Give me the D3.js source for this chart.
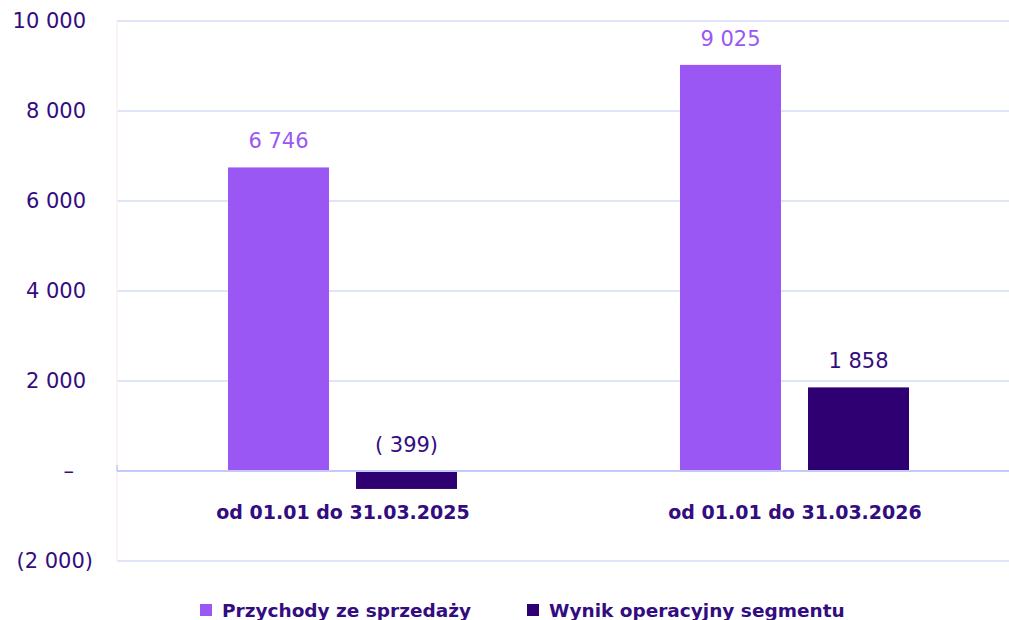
<!DOCTYPE html>
<html>
<head>
<meta charset="utf-8">
<script src="https://cdn.jsdelivr.net/npm/d3@7"></script>
<style>
  body { margin: 0; background: #fff; }
  svg text { font-family: "DejaVu Sans", sans-serif; }
</style>
</head>
<body>
<div id="chart"></div>
<script>
const categories = ["od 01.01 do 31.03.2025", "od 01.01 do 31.03.2026"];
const seriesNames = ["Przychody ze sprzedaży", "Wynik operacyjny segmentu"];
const revenue = [6746, 9025];
const operatingResult = [-399, 1858];
const valueLabels = [["6 746", "( 399)"], ["9 025", "1 858"]];
const yTicks = [-2000, 0, 2000, 4000, 6000, 8000, 10000];
const yTickLabels = ["(2 000)", "–", "2 000", "4 000", "6 000", "8 000", "10 000"];

const colors = ["#9a57f3", "#2e0072"];
const textColor = "#330d80";

const W = 1009, H = 620;
const svg = d3.select("#chart").append("svg").attr("width", W).attr("height", H);

const y = d3.scaleLinear().domain([-2000, 10000]).range([561, 21]);
const x0 = d3.scaleBand().domain(categories).range([117, 1021]);
const x1 = d3.scaleBand().domain(seriesNames).range([111, 340]).paddingInner(0.211);

// gridlines
svg.append("g").selectAll("line").data(yTicks.filter(d => d !== 0)).join("line")
  .attr("x1", 117).attr("x2", 1009)
  .attr("y1", d => y(d)).attr("y2", d => y(d))
  .attr("stroke", "#e0e4f9").attr("stroke-width", 2);

// left axis line
svg.append("line").attr("x1", 117).attr("x2", 117).attr("y1", 21).attr("y2", 561)
  .attr("stroke", "#fbeef2").attr("stroke-width", 1.5);

// y tick labels
svg.append("g").selectAll("text").data(yTicks).join("text")
  .attr("x", (d, i) => {
    const l = yTickLabels[i];
    if (l.endsWith(")")) return 93;
    if (l === "–") return 74;
    return 86;
  })
  .attr("y", d => y(d)).attr("dy", "0.35em")
  .attr("text-anchor", "end")
  .attr("fill", textColor).attr("font-size", 21)
  .text((d, i) => yTickLabels[i]);

const data = categories.map((c, i) => ({cat: c, vals: [revenue[i], operatingResult[i]]}));

const groups = svg.append("g").selectAll("g").data(data).join("g")
  .attr("transform", d => `translate(${x0(d.cat)},0)`);

groups.selectAll("rect").data(d => d.vals.map((v, j) => ({v, j}))).join("rect")
  .attr("x", d => x1(seriesNames[d.j]))
  .attr("width", x1.bandwidth())
  .attr("y", d => y(Math.max(0, d.v)))
  .attr("height", d => Math.abs(y(d.v) - y(0)))
  .attr("fill", d => colors[d.j]);

groups.selectAll("text.val").data((d, i) => d.vals.map((v, j) => ({v, j, label: valueLabels[i][j]}))).join("text")
  .attr("class", "val")
  .attr("x", d => x1(seriesNames[d.j]) + x1.bandwidth() / 2)
  .attr("y", d => y(Math.max(0, d.v)) - 19)
  .attr("text-anchor", "middle")
  .attr("fill", d => d.j === 0 ? colors[0] : textColor)
  .attr("font-size", 21)
  .text(d => d.label);

// zero line
svg.append("line").attr("x1", 117).attr("x2", 1009).attr("y1", y(0)).attr("y2", y(0))
  .attr("stroke", "#c3c9fb").attr("stroke-width", 2);
svg.append("line").attr("x1", 117).attr("x2", 117).attr("y1", y(0) - 6).attr("y2", y(0))
  .attr("stroke", "#c3c9fb").attr("stroke-width", 1.5);

// category labels
svg.append("g").selectAll("text").data(categories).join("text")
  .attr("x", d => x0(d) + x0.bandwidth() / 2)
  .attr("y", 519)
  .attr("text-anchor", "middle")
  .attr("fill", textColor).attr("font-size", 19).attr("font-weight", "bold")
  .text(d => d);

// legend
const legendX = [200, 527];
const legend = svg.append("g").selectAll("g").data(seriesNames).join("g")
  .attr("transform", (d, i) => `translate(${legendX[i]},604)`);
legend.append("rect").attr("width", 12).attr("height", 12).attr("fill", (d, i) => colors[i]);
legend.append("text").attr("x", 22).attr("y", 13)
  .attr("fill", textColor).attr("font-size", 18.5).attr("font-weight", "bold")
  .text(d => d);
</script>
</body>
</html>
